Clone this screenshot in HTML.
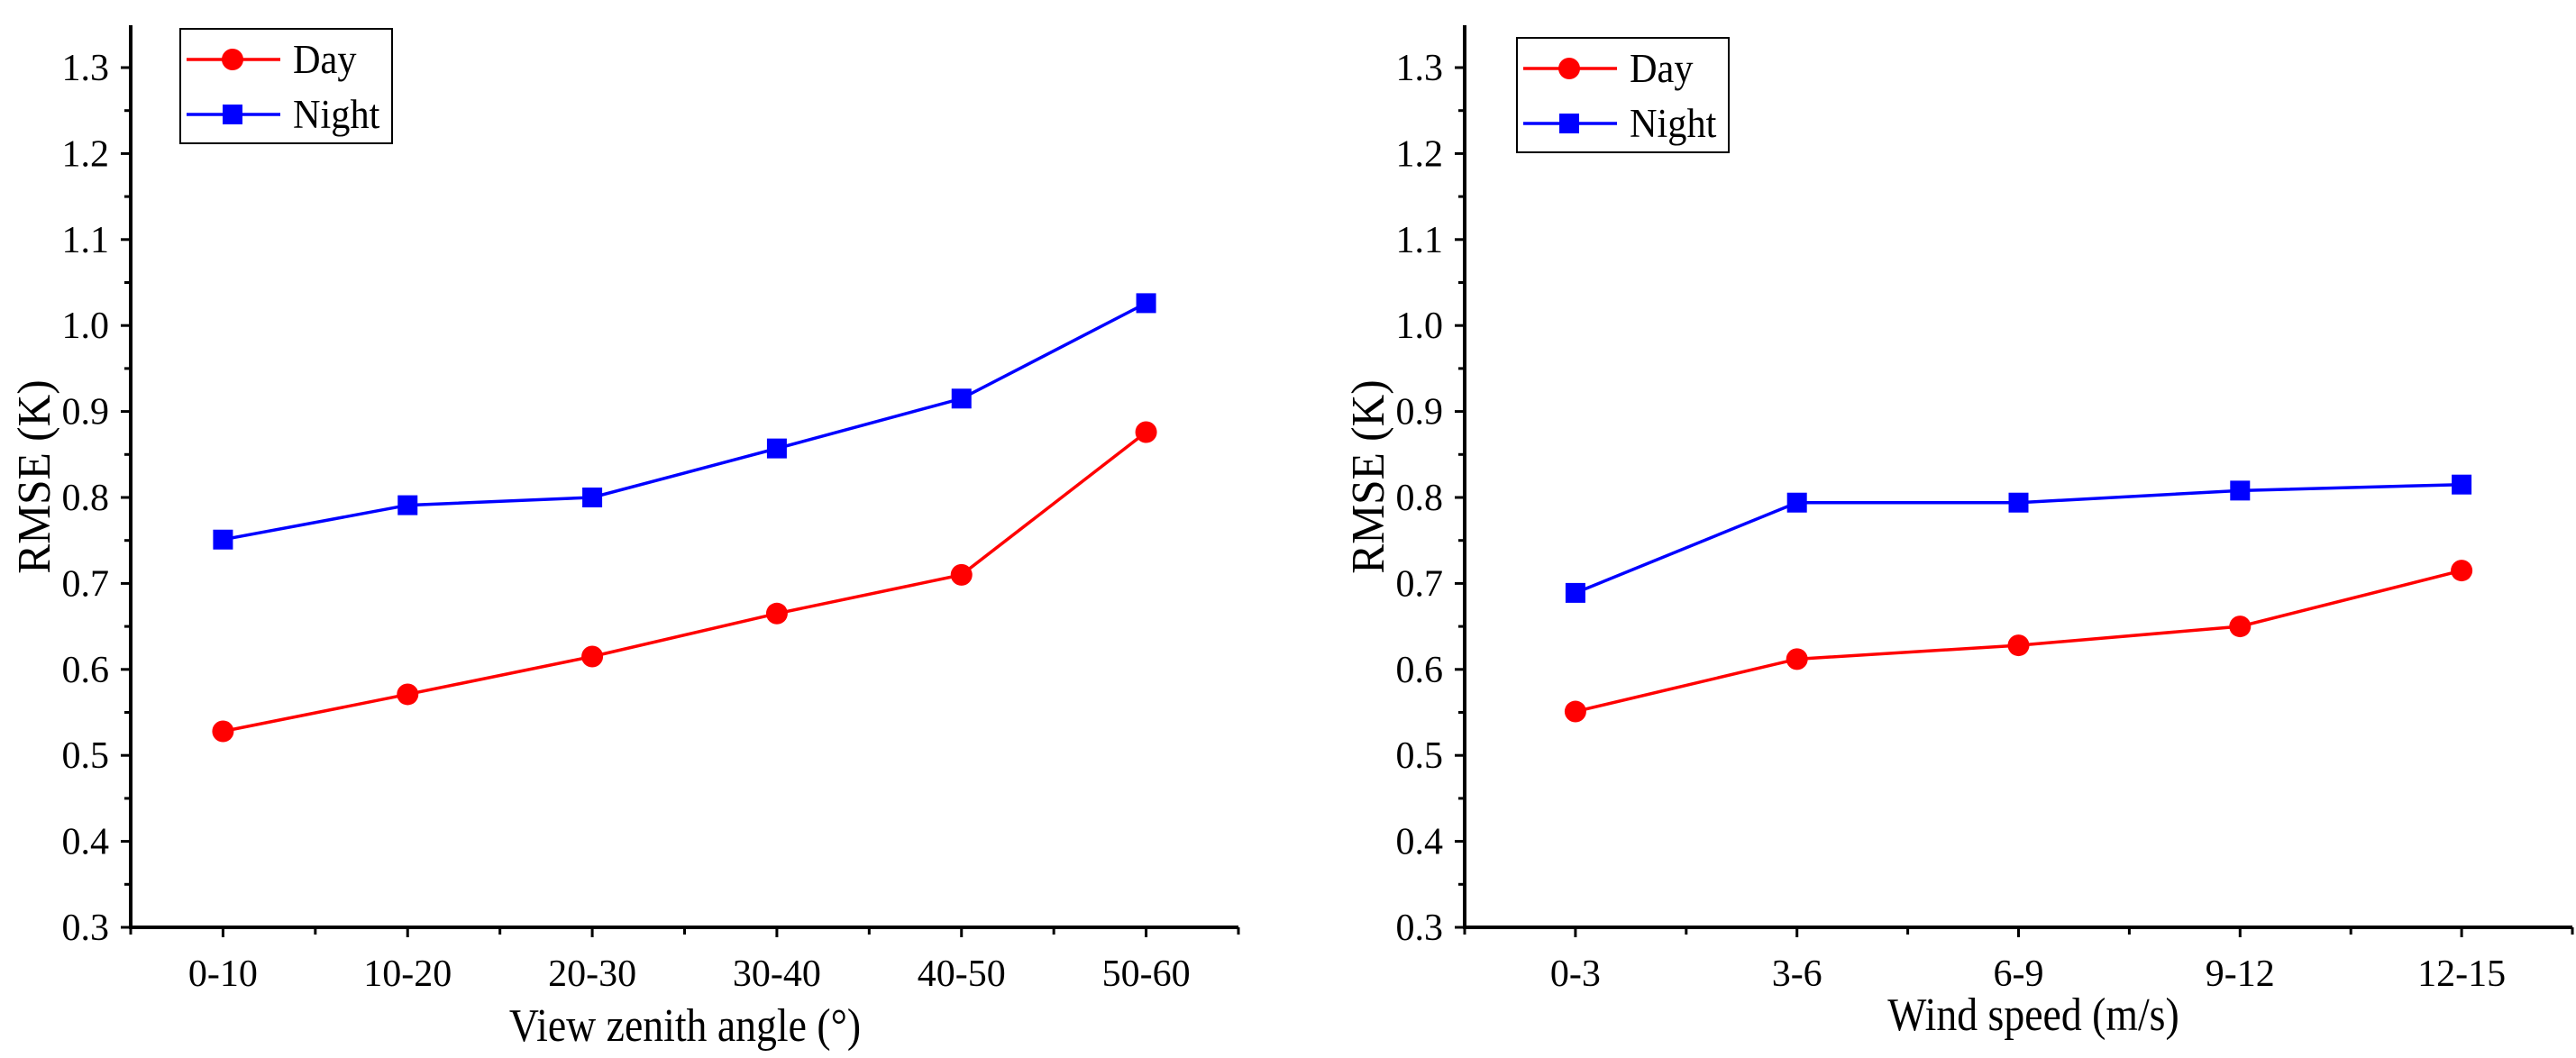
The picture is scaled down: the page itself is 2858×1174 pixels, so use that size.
<!DOCTYPE html>
<html><head><meta charset="utf-8"><style>
html,body{margin:0;padding:0;background:#fff;}
svg{display:block;font-family:"Liberation Serif","Times New Roman",serif;}
</style></head><body>
<svg id="fig" width="2858" height="1174" viewBox="0 0 2858 1174" xmlns="http://www.w3.org/2000/svg"></svg>
<script>
const leftCategories = ["0-10","10-20","20-30","30-40","40-50","50-60"];
const leftDay = [0.528,0.571,0.615,0.665,0.710,0.876];
const leftNight = [0.751,0.791,0.800,0.857,0.915,1.026];
const rightCategories = ["0-3","3-6","6-9","9-12","12-15"];
const rightDay = [0.551,0.612,0.628,0.650,0.715];
const rightNight = [0.689,0.794,0.794,0.808,0.815];
const yTicks = ["0.3","0.4","0.5","0.6","0.7","0.8","0.9","1.0","1.1","1.2","1.3"];
const seriesNames = ["Day","Night"];

const NS="http://www.w3.org/2000/svg";
const svg=document.getElementById('fig');
function mk(tag,attrs,parent,txt){const e=document.createElementNS(NS,tag);for(const k in attrs)e.setAttribute(k,attrs[k]);if(txt!==undefined)e.textContent=txt;parent.appendChild(e);return e;}

function drawChart(cfg){
  const g=mk('g',{},svg);
  
  
  const x0=cfg.x0,x1=cfg.x1,yb=1029,ytop=28;
  const yMin=0.3,yMax=1.3,yTopPx=75;
  const ys=v=>yb-(v-yMin)/(yMax-yMin)*(yb-yTopPx);
  const n=cfg.cats.length;
  const step=(x1-x0)/n;
  const xs=i=>x0+(i+0.5)*step;
  const ax=mk('line',{x1:x0,y1:ytop,x2:x0,y2:yb+2,stroke:'#000','stroke-width':4},g);
  
  const bx=mk('line',{x1:x0-2,y1:yb,x2:x1,y2:yb,stroke:'#000','stroke-width':4},g);
  
  yTicks.forEach((t,i)=>{
    const v=parseFloat(t),y=ys(v);
    mk('line',{x1:x0-11,y1:y,x2:x0,y2:y,stroke:'#000','stroke-width':3},g);
    const tl=mk('text',{x:x0-24,y:y+14,'font-size':42,'text-anchor':'end'},g,t);
    
    if(i<yTicks.length-1){const ym=ys(v+0.05);mk('line',{x1:x0-7,y1:ym,x2:x0,y2:ym,stroke:'#000','stroke-width':3},g);}
  });
  for(let i=0;i<=n;i++){const x=x0+i*step;mk('line',{x1:x,y1:yb,x2:x,y2:yb+8,stroke:'#000','stroke-width':3},g);}
  cfg.cats.forEach((c,i)=>{
    const x=xs(i);
    mk('line',{x1:x,y1:yb,x2:x,y2:yb+11,stroke:'#000','stroke-width':3},g);
    const tl=mk('text',{x:x,y:1094,'font-size':42,'text-anchor':'middle'},g,c);
    
  });
  const xt=mk('text',{x:0,y:0,'font-size':52,'text-anchor':'middle',transform:`translate(${cfg.xtX},${cfg.xtY}) scale(0.88,1)`},g,cfg.xTitle);
  
  const yt=mk('text',{x:0,y:0,'font-size':52,'text-anchor':'middle',transform:`translate(${cfg.ytX},529) rotate(-90) scale(0.95,1)`},g,'RMSE (K)');
  
  const series=[{vals:cfg.night,color:'#0000ff',shape:'sq',name:'night'},{vals:cfg.day,color:'#ff0000',shape:'ci',name:'day'}];
  series.forEach(s=>{
    const pts=s.vals.map((v,i)=>xs(i)+','+ys(v)).join(' ');
    const pl=mk('polyline',{points:pts,fill:'none',stroke:s.color,'stroke-width':3.5},g);
    
    s.vals.forEach((v,i)=>{
      let m;
      if(s.shape==='ci')m=mk('circle',{cx:xs(i),cy:ys(v),r:12,fill:s.color},g);
      else m=mk('rect',{x:xs(i)-11,y:ys(v)-11,width:22,height:22,fill:s.color},g);
      
    });
  });
  const L=cfg.leg;
  const lg=mk('g',{},g);
  
  mk('rect',{x:L.x,y:L.y,width:235,height:127,fill:'#fff',stroke:'#000','stroke-width':2},lg);
  const rows=[{y:L.y+34,c:'#ff0000',sh:'ci',t:seriesNames[0]},{y:L.y+95,c:'#0000ff',sh:'sq',t:seriesNames[1]}];
  rows.forEach(r=>{
    const e=mk('g',{},lg);
    
    mk('line',{x1:L.x+7,y1:r.y,x2:L.x+111,y2:r.y,stroke:r.c,'stroke-width':3.5},e);
    if(r.sh==='ci')mk('circle',{cx:L.x+58,cy:r.y,r:12,fill:r.c},e);
    else mk('rect',{x:L.x+47,y:r.y-11,width:22,height:22,fill:r.c},e);
    mk('text',{x:0,y:0,'font-size':46,transform:`translate(${L.x+125},${r.y+15}) scale(0.92,1)`},e,r.t);
  });
}
drawChart({name:'chart-view-zenith',x0:145,x1:1374,cats:leftCategories,day:leftDay,night:leftNight,xTitle:'View zenith angle (°)',xtX:760,xtY:1155,ytX:55,leg:{x:200,y:32}});
drawChart({name:'chart-wind-speed',x0:1625,x1:2854,cats:rightCategories,day:rightDay,night:rightNight,xTitle:'Wind speed (m/s)',xtX:2256,xtY:1143,ytX:1535,leg:{x:1683,y:42}});
</script>
</body></html>
